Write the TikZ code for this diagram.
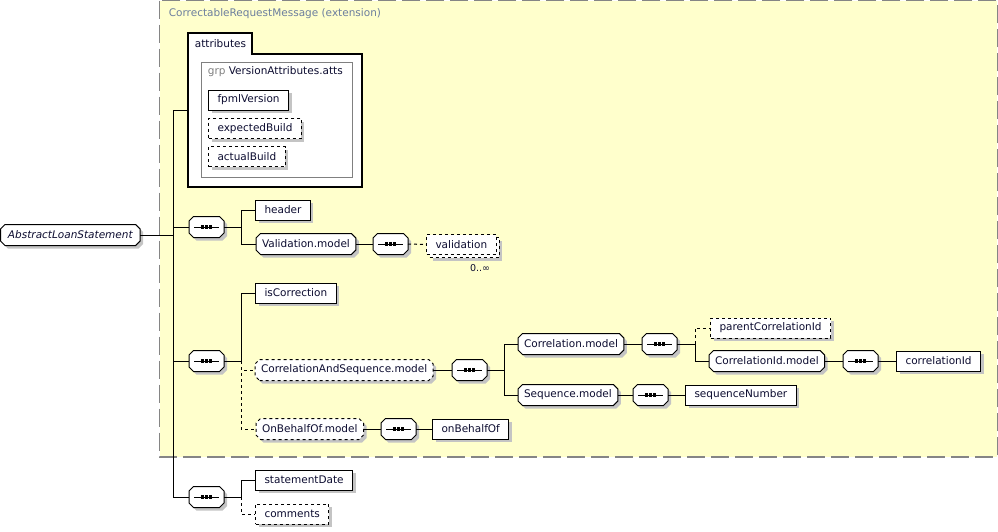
\documentclass[tikz,border=0pt]{standalone}
\usepackage{fontspec}
\setmainfont{DejaVu Sans}
\usetikzlibrary{shadows}
\definecolor{boxyellow}{HTML}{FFFFCC}
\definecolor{dashgray}{HTML}{858585}
\definecolor{titleblue}{HTML}{6C7E9E}
\definecolor{ink}{HTML}{0C0C30}
\definecolor{shade}{HTML}{C4C4C4}
\makeatletter
\pgfdeclareshape{octobox}{%
  \inheritsavedanchors[from=rectangle]
  \inheritanchorborder[from=rectangle]
  \inheritanchor[from=rectangle]{center}
  \inheritanchor[from=rectangle]{north}
  \inheritanchor[from=rectangle]{south}
  \inheritanchor[from=rectangle]{east}
  \inheritanchor[from=rectangle]{west}
  \backgroundpath{%
    \southwest \edef\oct@xa{\the\pgf@x}\edef\oct@ya{\the\pgf@y}%
    \northeast \edef\oct@xb{\the\pgf@x}\edef\oct@yb{\the\pgf@y}%
    \pgfpathmoveto{\pgfpoint{\oct@xa+4.5pt}{\oct@ya}}%
    \pgfpathlineto{\pgfpoint{\oct@xb-4.5pt}{\oct@ya}}%
    \pgfpathlineto{\pgfpoint{\oct@xb}{\oct@ya+4.5pt}}%
    \pgfpathlineto{\pgfpoint{\oct@xb}{\oct@yb-4.5pt}}%
    \pgfpathlineto{\pgfpoint{\oct@xb-4.5pt}{\oct@yb}}%
    \pgfpathlineto{\pgfpoint{\oct@xa+4.5pt}{\oct@yb}}%
    \pgfpathlineto{\pgfpoint{\oct@xa}{\oct@yb-4.5pt}}%
    \pgfpathlineto{\pgfpoint{\oct@xa}{\oct@ya+4.5pt}}%
    \pgfpathclose
  }%
}
\makeatother
\begin{document}
\begin{tikzpicture}[x=1pt, y=-1pt, line width=1pt,
    every node/.style={font=\fontsize{10.5}{12}\selectfont, text=ink},
    box/.style={draw, fill=white, anchor=west, minimum height=20pt, inner xsep=9pt, inner ysep=0pt},
    elem/.style={box, drop shadow={shadow xshift=3pt, shadow yshift=-3pt, fill=shade, opacity=1}},
    optelem/.style={elem, dashed},
    model/.style={elem, shape=octobox, inner xsep=5.5pt},
    optmodel/.style={model, dashed},
    seqbox/.style={model, minimum width=34pt},
    seqmark/.style={line width=1pt}]
    \useasboundingbox (0,0) rectangle (998,531);

    % extension frame
    \draw[dashgray, line width=1.3pt, dash pattern=on 18pt off 6pt, fill=boxyellow] (159.5,0.5) rectangle (997.3,457);
    \node[anchor=west, text=titleblue] (title) at (165,14) {CorrectableRequestMessage (extension)};

    % attributes
    \draw[line width=1.1pt, fill=white] (188,33) -- (252,33) -- (252,54) -- (362,54) -- (362,187) -- (188,187) -- cycle;
    \node[anchor=west] (attrs) at (191,44) {attributes};
    \draw[gray] (201,62) rectangle (352,177);
    \node[anchor=west] (grp) at (204,72) {\textcolor{gray}{grp} VersionAttributes.atts};
    \node[elem] (fpml) at (208,100) {fpmlVersion};
    \node[optelem] (expected) at (208,128.5) {expectedBuild};
    \node[optelem] (actual) at (208,156.5) {actualBuild};
    \coordinate (attrin) at (188,110);

    % root
    \node[model, font=\fontsize{10.5}{12}\selectfont\itshape, inner xsep=7pt] (als) at (0.5,235) {AbstractLoanStatement};
    \coordinate (trunk) at (173,235);

    % sequences
    \node[seqbox] (s1) at (189,227) {};
    \node[seqbox] (s2) at (373,244) {};
    \node[seqbox] (s3) at (189,361) {};
    \node[seqbox] (s4) at (452,370) {};
    \node[seqbox] (s5) at (642,344) {};
    \node[seqbox] (s6) at (843,361) {};
    \node[seqbox] (s7) at (633,395) {};
    \node[seqbox] (s8) at (381,429) {};
    \node[seqbox] (s9) at (189,497) {};
    \foreach \s in {s1,s2,s3,s4,s5,s6,s7,s8,s9} {
        \draw[seqmark] ([xshift=5pt]\s.west) -- ([xshift=-5pt]\s.east);
        \foreach \d in {-4.2,0,4.2}
            \fill ([xshift=\d pt]\s.center) +(-1.6pt,-1.6pt) rectangle +(1.6pt,1.6pt);
    }

    % elements
    \node[elem] (header) at (255,210) {header};
    \node[model] (valmod) at (256,244) {Validation.model};
    \node[optelem] (validback) at (429,247.5) {\phantom{validation}};
    \node[box, dashed] (valid) at (426,244.5) {validation};
    \node[font=\fontsize{9.5}{10}\selectfont] (mult) at (480,268) {0..∞};
    \node[elem] (iscorr) at (255,293) {isCorrection};
    \node[optmodel] (cas) at (255,370) {CorrelationAndSequence.model};
    \node[model] (corrmod) at (518,344) {Correlation.model};
    \node[model] (seqmod) at (518,395) {Sequence.model};
    \node[optelem] (parent) at (710,328) {parentCorrelationId};
    \node[model] (cidmod) at (709,361) {CorrelationId.model};
    \node[elem] (cid) at (896,361) {correlationId};
    \node[elem] (seqnum) at (685,395) {sequenceNumber};
    \node[optmodel] (obo) at (256,429) {OnBehalfOf.model};
    \node[elem] (onbehalf) at (432,429) {onBehalfOf};
    \node[elem] (sdate) at (255,480) {statementDate};
    \node[optelem] (comments) at (255,514) {comments};

    % connectors
    \draw (als.east) -- (trunk);
    \draw (attrin) -| (s9.west -| trunk) -- (s9.west);
    \draw (trunk |- s1.west) -- (s1.west);
    \draw (trunk |- s3.west) -- (s3.west);
    \draw (s1.east) -- ++(17,0) coordinate (b1) |- (header.west);
    \draw (b1) |- (valmod.west);
    \draw (valmod.east) -- (s2.west);
    \draw[dashed] (s2.east) -- (valid.west);
    \draw (s3.east) -- ++(17,0) coordinate (b3) |- (iscorr.west);
    \draw[dashed] (b3) |- (cas.west);
    \draw[dashed] (b3) |- (obo.west);
    \draw (cas.east) -- (s4.west);
    \draw (s4.east) -- ++(17,0) coordinate (b4) |- (corrmod.west);
    \draw (b4) |- (seqmod.west);
    \draw (corrmod.east) -- (s5.west);
    \draw (s5.east) -- ++(18,0) coordinate (b5) |- (cidmod.west);
    \draw[dashed] (b5) |- (parent.west);
    \draw (cidmod.east) -- (s6.west);
    \draw (s6.east) -- (cid.west);
    \draw (seqmod.east) -- (s7.west);
    \draw (s7.east) -- (seqnum.west);
    \draw (obo.east) -- (s8.west);
    \draw (s8.east) -- (onbehalf.west);
    \draw (s9.east) -- ++(17,0) coordinate (b9) |- (sdate.west);
    \draw[dashed] (b9) |- (comments.west);
\end{tikzpicture}
\end{document}
